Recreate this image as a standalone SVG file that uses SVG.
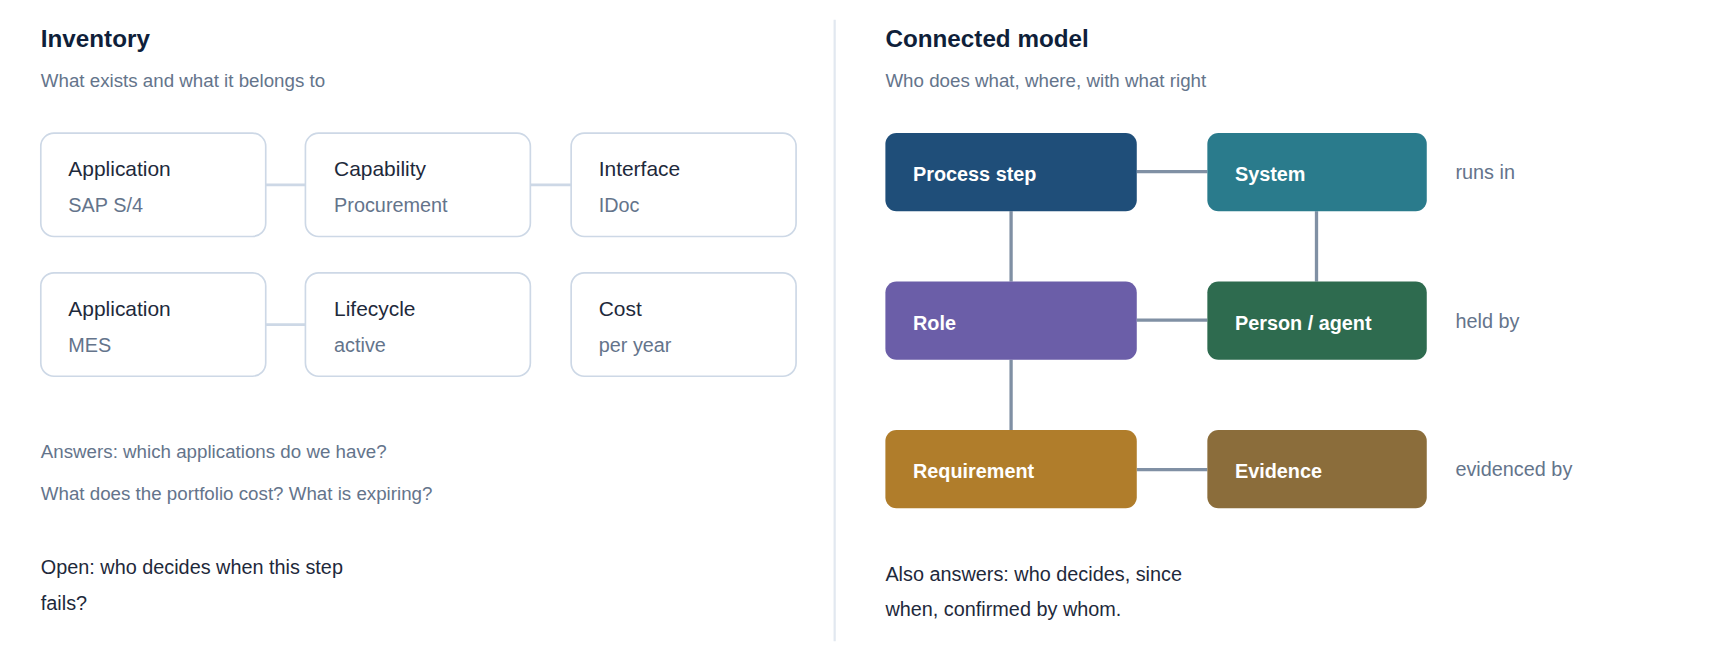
<svg xmlns="http://www.w3.org/2000/svg" width="1720" height="660" viewBox="0 0 1720 660">
<style>
text{font-family:"Liberation Sans",Arial,sans-serif}
.h{font-size:22px;font-weight:bold;fill:#0f1f3a}
.sub{font-size:17px;fill:#64748b}
.box{fill:#fff;stroke:#cdd8e6;stroke-width:1.5}
.bl{font-size:19px;fill:#1e293b}
.bs{font-size:18px;fill:#64748b}
.lc{stroke:#cdd8e6;stroke-width:2.5}
.dc{stroke:#8090a4;stroke-width:3}
.nt{font-size:18px;font-weight:bold;fill:#fff}
.side{font-size:18px;fill:#64748b}
.body{font-size:18px;fill:#1e293b}
</style>
<rect width="1720" height="660" fill="#fff"/>
<g transform="scale(1.1026,1.1)">
<text class="h" x="37" y="43">Inventory</text>
<text class="sub" x="37" y="79">What exists and what it belongs to</text>
<g id="connectors-left">
<line class="lc" x1="241" y1="168" x2="277" y2="168"/>
<line class="lc" x1="481" y1="168" x2="518" y2="168"/>
<line class="lc" x1="241" y1="295" x2="277" y2="295"/>
</g>
<g id="inv-app1"><rect class="box" x="37" y="121" width="204" height="94" rx="12"/><text class="bl" x="62" y="160">Application</text><text class="bs" x="62" y="193">SAP S/4</text></g>
<g id="inv-cap"><rect class="box" x="277" y="121" width="204" height="94" rx="12"/><text class="bl" x="303" y="160">Capability</text><text class="bs" x="303" y="193">Procurement</text></g>
<g id="inv-if"><rect class="box" x="518" y="121" width="204" height="94" rx="12"/><text class="bl" x="543" y="160">Interface</text><text class="bs" x="543" y="193">IDoc</text></g>
<g id="inv-app2"><rect class="box" x="37" y="248" width="204" height="94" rx="12"/><text class="bl" x="62" y="287">Application</text><text class="bs" x="62" y="320">MES</text></g>
<g id="inv-life"><rect class="box" x="277" y="248" width="204" height="94" rx="12"/><text class="bl" x="303" y="287">Lifecycle</text><text class="bs" x="303" y="320">active</text></g>
<g id="inv-cost"><rect class="box" x="518" y="248" width="204" height="94" rx="12"/><text class="bl" x="543" y="287">Cost</text><text class="bs" x="543" y="320">per year</text></g>
<text class="sub" x="37" y="416">Answers: which applications do we have?</text>
<text class="sub" x="37" y="455">What does the portfolio cost? What is expiring?</text>
<text class="body" x="37" y="522">Open: who decides when this step</text>
<text class="body" x="37" y="555">fails?</text>
<line x1="757" y1="18" x2="757" y2="583" stroke="#e2e8f0" stroke-width="2"/>
<text class="h" x="803" y="43">Connected model</text>
<text class="sub" x="803" y="79">Who does what, where, with what right</text>
<g id="connectors-right">
<line class="dc" x1="1031" y1="156" x2="1095" y2="156"/>
<line class="dc" x1="1031" y1="291" x2="1095" y2="291"/>
<line class="dc" x1="1031" y1="427" x2="1095" y2="427"/>
<line class="dc" x1="917" y1="192" x2="917" y2="256"/>
<line class="dc" x1="917" y1="327" x2="917" y2="391"/>
<line class="dc" x1="1194" y1="192" x2="1194" y2="256"/>
</g>
<g id="n-process"><rect x="803" y="121" width="228" height="71" rx="10" fill="#1f4e79"/><text class="nt" x="828" y="165">Process step</text></g>
<g id="n-system"><rect x="1095" y="121" width="199" height="71" rx="10" fill="#2a7b8c"/><text class="nt" x="1120" y="165">System</text></g>
<g id="n-role"><rect x="803" y="256" width="228" height="71" rx="10" fill="#6b5ea8"/><text class="nt" x="828" y="300">Role</text></g>
<g id="n-person"><rect x="1095" y="256" width="199" height="71" rx="10" fill="#2e6b4f"/><text class="nt" x="1120" y="300">Person / agent</text></g>
<g id="n-req"><rect x="803" y="391" width="228" height="71" rx="10" fill="#b07d2b"/><text class="nt" x="828" y="435">Requirement</text></g>
<g id="n-evid"><rect x="1095" y="391" width="199" height="71" rx="10" fill="#8b6d3b"/><text class="nt" x="1120" y="435">Evidence</text></g>
<text class="side" x="1320" y="163">runs in</text>
<text class="side" x="1320" y="298">held by</text>
<text class="side" x="1320" y="433">evidenced by</text>
<text class="body" x="803" y="528">Also answers: who decides, since</text>
<text class="body" x="803" y="560">when, confirmed by whom.</text>
</g>
</svg>
